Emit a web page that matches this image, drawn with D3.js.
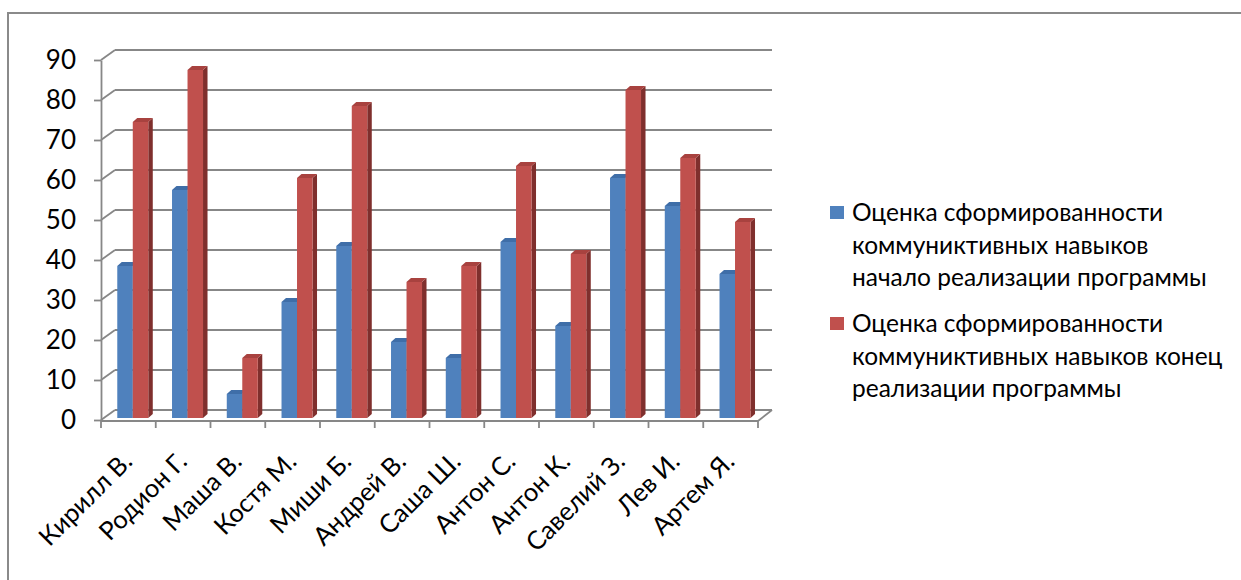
<!DOCTYPE html>
<html>
<head>
<meta charset="utf-8">
<script src="https://cdn.jsdelivr.net/npm/d3@7"></script>
<style>
  html, body { margin: 0; padding: 0; background: #fff; }
  svg { display: block; }
  text { font-family: Lato, "Open Sans", sans-serif; fill: #000; }
</style>
</head>
<body>
<svg id="chart" width="1241" height="580"></svg>
<script>
// Pupils and their communication-skill scores
const categories = ["Кирилл В.", "Родион Г.", "Маша В.", "Костя М.", "Миши Б.", "Андрей В.",
                    "Саша Ш.", "Антон С.", "Антон К.", "Савелий З.", "Лев И.", "Артем Я."];
const seriesNames = [
  ["Оценка сформированности", "коммуниктивных навыков", "начало реализации программы"],
  ["Оценка сформированности", "коммуниктивных навыков конец", "реализации программы"]
];
const startScores = [38, 57, 6, 29, 43, 19, 15, 44, 23, 60, 53, 36];
const endScores   = [74, 87, 15, 60, 78, 34, 38, 63, 41, 82, 65, 49];
const yTicks = [0, 10, 20, 30, 40, 50, 60, 70, 80, 90];

const series = [
  { key: "start", values: startScores, front: "#4f81bd", top: "#3f6ea8", side: "#34557f" },
  { key: "end",   values: endScores,   front: "#c0504d", top: "#a8423f", side: "#7f2f2d" }
];

const svg = d3.select("#chart");
const gridColor = "#878787";

// Outer chart frame
svg.append("rect")
  .attr("x", 8).attr("y", 13).attr("width", 1250).attr("height", 600)
  .attr("fill", "none").attr("stroke", "#8a8a8a").attr("stroke-width", 2);

// Pseudo-3D geometry: front plane, wall plane, bar plane
const depth = { dx: 14, dy: -10 };
const yFront = d3.scaleLinear().domain([0, 90]).range([420, 60]);
const yBack  = d3.scaleLinear().domain([0, 90]).range([410, 50]);
const yBar   = d3.scaleLinear().domain([0, 90]).range([418, 58]);
const xFront = d3.scaleBand().domain(categories).range([101, 758]);
const barW = 15.5;
const xSeries = d3.scaleBand().domain(series.map(s => s.key)).range([0, 2 * barW]);
const barShift = 4.4;              // bar plane sits slightly behind the front plane
const bd = { dx: 4.5, dy: -4 };    // bar depth
const groupOffset = (xFront.bandwidth() - 2 * barW) / 2 + barShift;

const grid = svg.append("g").attr("stroke", gridColor).attr("stroke-width", 1.8).attr("fill", "none");

// Back wall gridlines and side wall diagonals
yTicks.forEach(v => {
  grid.append("line")
    .attr("x1", 101 + depth.dx).attr("x2", 758 + depth.dx)
    .attr("y1", yBack(v)).attr("y2", yBack(v));
  grid.append("line")
    .attr("x1", 101).attr("y1", yFront(v))
    .attr("x2", 101 + depth.dx).attr("y2", yBack(v));
});
// Floor: right diagonal
grid.append("line")
  .attr("x1", 758).attr("y1", yFront(0) + 1)
  .attr("x2", 758 + depth.dx).attr("y2", yBack(0));

// Bars
const bars = svg.append("g");
categories.forEach((c, i) => {
  series.forEach(s => {
    const v = s.values[i];
    const x = xFront(c) + groupOffset + xSeries(s.key);
    const y0 = yBar(0), y1 = yBar(v);
    const g = bars.append("g");
    // side face
    g.append("path")
      .attr("d", `M${x + barW},${y1} L${x + barW + bd.dx},${y1 + bd.dy} L${x + barW + bd.dx},${y0 + bd.dy} L${x + barW},${y0} Z`)
      .attr("fill", s.side);
    // top face
    g.append("path")
      .attr("d", `M${x},${y1} L${x + bd.dx},${y1 + bd.dy} L${x + barW + bd.dx},${y1 + bd.dy} L${x + barW},${y1} Z`)
      .attr("fill", s.top);
    // front face
    g.append("rect")
      .attr("x", x).attr("y", y1).attr("width", barW).attr("height", y0 - y1)
      .attr("fill", s.front);
  });
});

// Front floor edge and category ticks
const axisG = svg.append("g").attr("stroke", gridColor).attr("stroke-width", 1.8).attr("fill", "none");
axisG.append("line").attr("x1", 101).attr("x2", 758).attr("y1", yFront(0) + 1).attr("y2", yFront(0) + 1);
const boundaries = categories.map(c => xFront(c)).concat([xFront.range()[1]]);
boundaries.forEach(bx => {
  axisG.append("line").attr("x1", bx).attr("x2", bx).attr("y1", yFront(0) + 1).attr("y2", yFront(0) + 8);
});

// Value axis on the front plane
const yAxis = d3.axisLeft(yFront).tickValues(yTicks).tickSize(7).tickSizeOuter(0).tickPadding(18);
const yG = svg.append("g").attr("transform", "translate(101,0)").call(yAxis);
yG.select(".domain").attr("stroke", gridColor).attr("stroke-width", 1.8);
yG.selectAll(".tick line").attr("stroke", gridColor).attr("stroke-width", 1.8);
yG.selectAll(".tick text").attr("font-size", 26).attr("font-family", "Lato, 'Open Sans', sans-serif").attr("fill", "#000");

// Category labels, rotated
svg.append("g").selectAll("text").data(categories).join("text")
  .attr("transform", d => `translate(${xFront(d) + xFront.bandwidth() / 2 + 5.5},463) rotate(-45)`)
  .attr("text-anchor", "end")
  .attr("font-size", 25.5)
  .text(d => d);

// Legend
const legend = svg.append("g");
const legendTop = [221, 332];
const lineGap = 32.5;
series.forEach((s, k) => {
  const by = legendTop[k];
  legend.append("rect").attr("x", 830).attr("y", by - 15).attr("width", 14).attr("height", 13).attr("fill", s.front);
  const t = legend.append("text").attr("x", 852).attr("y", by).attr("font-size", 24.5);
  seriesNames[k].forEach((line, j) => {
    t.append("tspan").attr("x", 852).attr("y", by + j * lineGap).text(line);
  });
});
</script>
</body>
</html>
